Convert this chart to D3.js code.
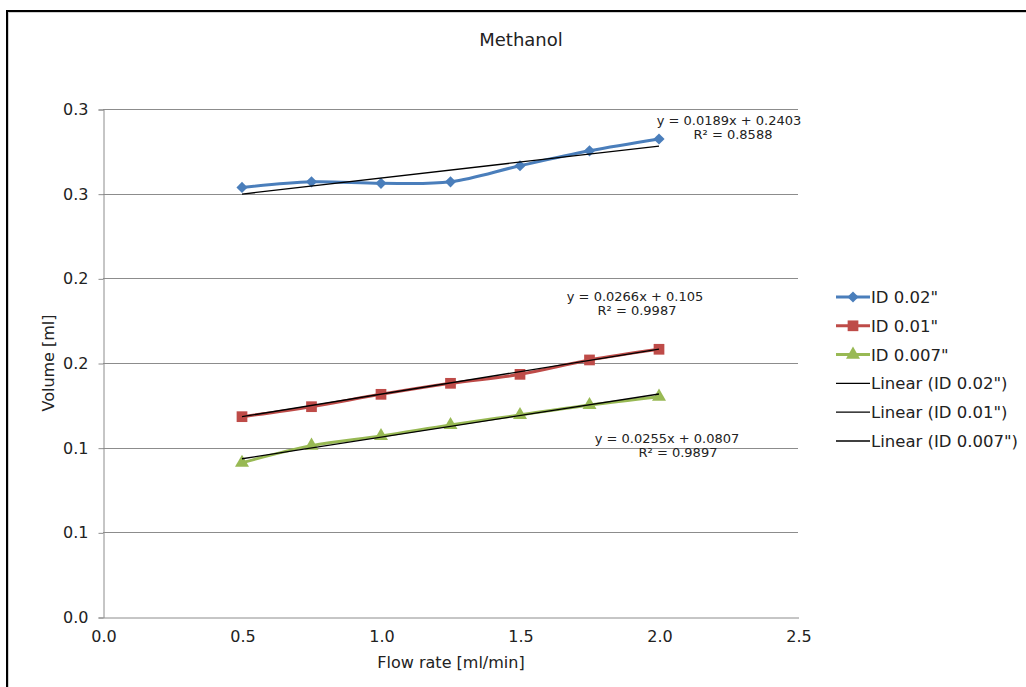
<!DOCTYPE html>
<html>
<head>
<meta charset="utf-8">
<script src="https://cdn.jsdelivr.net/npm/d3@7"></script>
<style>
  html, body { margin: 0; padding: 0; background: #fff; }
  svg { display: block; }
  text { font-family: "DejaVu Sans", Verdana, sans-serif; fill: #222; }
</style>
</head>
<body>
<svg id="chart" width="1026" height="687"></svg>
<script>
// Flow rates (ml/min)
const flowRates = [0.5, 0.75, 1.0, 1.25, 1.5, 1.75, 2.0];

// Measured volumes (ml) per tubing inner diameter
const volumeId002 = [0.2537, 0.2570, 0.2561, 0.2570, 0.2665, 0.2753, 0.2823];
const volumeId001 = [0.1183, 0.1242, 0.1315, 0.1380, 0.1433, 0.1518, 0.1581];
const volumeId0007 = [0.0911, 0.1012, 0.1069, 0.1134, 0.1193, 0.1252, 0.1301];

const seriesNames = ['ID 0.02"', 'ID 0.01"', 'ID 0.007"'];
const trendNames = ['Linear (ID 0.02")', 'Linear (ID 0.01")', 'Linear (ID 0.007")'];

// Linear fits: slope, intercept, R²
const trendSlopes = [0.0189, 0.0266, 0.0255];
const trendIntercepts = [0.2403, 0.105, 0.0807];
const trendR2 = ["0.8588", "0.9987", "0.9897"];

const xTicks = [0, 0.5, 1.0, 1.5, 2.0, 2.5];
const yTicks = [0, 0.05, 0.10, 0.15, 0.20, 0.25, 0.30];

// one-decimal labels, halves rounded up
const oneDecimal = d => (Math.round(d * 10 + 1e-9) / 10).toFixed(1);

const svg = d3.select("#chart");

// outer frame
svg.append("line").attr("x1", 6).attr("x2", 1026).attr("y1", 11).attr("y2", 11)
  .attr("stroke", "#000").attr("stroke-width", 2);
svg.append("line").attr("x1", 7).attr("x2", 7).attr("y1", 10).attr("y2", 687)
  .attr("stroke", "#000").attr("stroke-width", 2);
svg.append("line").attr("x1", 8).attr("x2", 1026).attr("y1", 12.5).attr("y2", 12.5)
  .attr("stroke", "#d0d0d0").attr("stroke-width", 1);
svg.append("line").attr("x1", 8.5).attr("x2", 8.5).attr("y1", 12).attr("y2", 687)
  .attr("stroke", "#d0d0d0").attr("stroke-width", 1);

const plotLeft = 103, plotRight = 798, plotTop = 109, plotBottom = 617;
const x = d3.scaleLinear().domain([0, 2.5]).range([plotLeft, plotRight]);
const y = d3.scaleLinear().domain([0, 0.30]).range([plotBottom, plotTop]);

// gridlines
svg.append("g").selectAll("line").data(yTicks.slice(1)).join("line")
  .attr("x1", plotLeft).attr("x2", plotRight)
  .attr("y1", d => Math.round(y(d)) + 0.5).attr("y2", d => Math.round(y(d)) + 0.5)
  .attr("stroke", "#8c8c8c").attr("stroke-width", 1);

// y axis
const yAxis = svg.append("g").attr("transform", `translate(${plotLeft + 0.5},0.5)`)
  .call(d3.axisLeft(y).tickValues(yTicks).tickFormat(oneDecimal).tickSize(5).tickPadding(10));
yAxis.select(".domain").attr("stroke", "#8c8c8c");
yAxis.selectAll(".tick line").attr("stroke", "#8c8c8c");
yAxis.selectAll("text").style("font-size", "16px").attr("fill", "#222");

// x axis
const xAxis = svg.append("g").attr("transform", `translate(0.5,${plotBottom + 0.5})`)
  .call(d3.axisBottom(x).tickValues(xTicks).tickFormat(oneDecimal).tickSize(0).tickPadding(13));
xAxis.select(".domain").attr("stroke", "#8c8c8c");
xAxis.selectAll("text").style("font-size", "16px").attr("fill", "#222");

// titles
svg.append("text").attr("x", 521).attr("y", 46).attr("text-anchor", "middle")
  .style("font-size", "18px").text("Methanol");
svg.append("text").attr("x", 451).attr("y", 668).attr("text-anchor", "middle")
  .style("font-size", "16px").text("Flow rate [ml/min]");
svg.append("text").attr("transform", "translate(54,363) rotate(-90)").attr("text-anchor", "middle")
  .style("font-size", "16px").text("Volume [ml]");

const colors = ["#4A7EBB", "#BE4B48", "#98B954"];
const allSeries = [volumeId002, volumeId001, volumeId0007];
// diamond = square turned 45°
const markerTypes = [d3.symbolSquare, d3.symbolSquare, d3.symbolTriangle];
const markerSizes = [62, 115, 85];
const markerRotations = [45, 0, 0];

const line = d3.line().x(d => x(d[0])).y(d => y(d[1])).curve(d3.curveCatmullRom.alpha(0));

allSeries.forEach((vals, i) => {
  const pts = flowRates.map((f, j) => [f, vals[j]]);
  svg.append("path").datum(pts).attr("d", line)
    .attr("fill", "none").attr("stroke", colors[i]).attr("stroke-width", 3);
  svg.append("g").selectAll("path").data(pts).join("path")
    .attr("transform", d => `translate(${x(d[0])},${y(d[1])}) rotate(${markerRotations[i]})`)
    .attr("d", d3.symbol().type(markerTypes[i]).size(markerSizes[i]))
    .attr("fill", colors[i]);
});

// trend lines
trendSlopes.forEach((m, i) => {
  const x0 = flowRates[0], x1 = flowRates[flowRates.length - 1];
  svg.append("line")
    .attr("x1", x(x0)).attr("y1", y(m * x0 + trendIntercepts[i]))
    .attr("x2", x(x1)).attr("y2", y(m * x1 + trendIntercepts[i]))
    .attr("stroke", "#000").attr("stroke-width", 1.3);
});

// trend equations
const eqPos = [[729, 125, 733], [635, 301, 637], [667, 443, 678]];
trendSlopes.forEach((m, i) => {
  const g = svg.append("g").attr("text-anchor", "middle").style("font-size", "13px");
  g.append("text").attr("x", eqPos[i][0]).attr("y", eqPos[i][1])
    .text(`y = ${m}x + ${trendIntercepts[i]}`);
  g.append("text").attr("x", eqPos[i][2]).attr("y", eqPos[i][1] + 14)
    .text(`R² = ${trendR2[i]}`);
});

// legend
const legX = 836, legY0 = 297, legStep = 28.8;
seriesNames.concat(trendNames).forEach((name, i) => {
  const yy = legY0 + i * legStep;
  const isSeries = i < 3;
  svg.append("line").attr("x1", legX).attr("x2", legX + 34).attr("y1", yy).attr("y2", yy)
    .attr("stroke", isSeries ? colors[i] : "#000").attr("stroke-width", isSeries ? 3 : 1.3);
  if (isSeries) {
    svg.append("path").attr("transform", `translate(${legX + 17},${yy}) rotate(${markerRotations[i]})`)
      .attr("d", d3.symbol().type(markerTypes[i]).size(markerSizes[i]))
      .attr("fill", colors[i]);
  }
  svg.append("text").attr("x", legX + 35).attr("y", yy + 6).style("font-size", "16.5px").text(name);
});
</script>
</body>
</html>
